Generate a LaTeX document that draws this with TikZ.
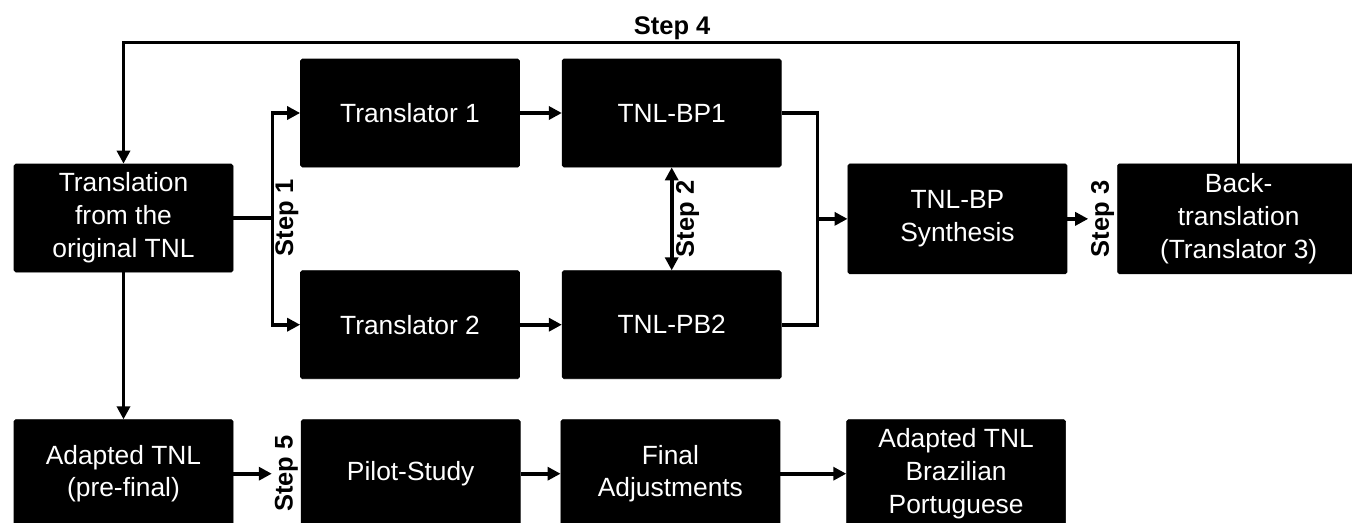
\documentclass[tikz,border=0pt]{standalone}
\usepackage{fontspec}
\setmainfont{Liberation Sans}
\usetikzlibrary{positioning, arrows.meta, calc}

\begin{document}
\begin{tikzpicture}[
        node distance = 8mm and 8mm,
        box/.style    = {draw, fill=black, rounded corners=1pt, minimum height=21.6mm, minimum width=43.8mm, align=center, text=white, font=\fontsize{15}{18.7}\selectfont},
        steplbl/.style= {font=\fontsize{14.5}{17}\selectfont\bfseries, inner sep=1.5pt},
        vstep/.style  = {steplbl, rotate=90},
        line/.style   = {line width=2.1pt},
        arrow/.style  = {line, -{Triangle[length=2.6mm, width=2.6mm]}},
    ]
        \useasboundingbox (0,0) rectangle (27.04,-10.44);
        % First translations
        \node[box] (trans) at (2.47,-4.36) {Translation\\from the\\original TNL};
        \node[box] (tr1) at (8.2,-2.26) {Translator 1};
        \node[box, right=8.4mm of tr1] (bp1) {TNL-BP1};
        \node[box, below=20.6mm of tr1] (tr2) {Translator 2};
        \node[box, below=20.6mm of bp1] (pb2) {TNL-PB2};
        % Synthesis and back-translation
        \coordinate (merge) at ($(bp1.east)!0.5!(pb2.east)+(7.2mm,0)$);
        \node[box, right=6mm of merge, minimum height=22mm] (synth) {TNL-BP\\Synthesis};
        \node[box, right=10mm of synth, minimum height=22mm, minimum width=48.4mm] (back) {Back-\\translation\\(Translator 3)};
        % Pre-final version and pilot
        \node[box, below=29.4mm of trans] (adapt) {Adapted TNL\\(pre-final)};
        \node[box, right=13.5mm of adapt] (pilot) {Pilot-Study};
        \node[box, right=8mm of pilot] (finadj) {Final\\Adjustments};
        \node[box, right=13.2mm of finadj] (final) {Adapted TNL\\Brazilian\\Portuguese};

        % Step labels
        \coordinate (split) at ($(trans.east)+(7.8mm,0)$);
        \node[vstep, anchor=north] (s1) at (split) {Step 1};
        \node[vstep, anchor=south] (s3) at (back.west) {Step 3};
        \node[vstep, anchor=south] (s5) at (pilot.west) {Step 5};

        % Arrows
        \draw[line] (trans.east) -- (split);
        \draw[arrow] (split) |- (tr1.west);
        \draw[arrow] (split) |- (tr2.west);
        \draw[arrow] (tr1) -- (bp1);
        \draw[arrow] (tr2) -- (pb2);
        \draw[line, {Triangle[length=2.6mm, width=2.6mm]}-{Triangle[length=2.6mm, width=2.6mm]}] (bp1.south) -- node[vstep, anchor=north] (s2) {Step 2} (pb2.north);
        \draw[line] (bp1.east) -| (merge) |- (pb2.east);
        \draw[arrow] (merge) -- (synth.west);
        \draw[arrow] (synth.east) -- (s3.north);
        \draw[arrow] (back.north) -- ++(0,2.42) -| node[steplbl, above, inner sep=0.5pt, pos=0.254] (s4) {Step 4} (trans.north);
        \draw[arrow] (trans.south) -- (adapt.north);
        \draw[arrow] (adapt.east) -- (s5.north);
        \draw[arrow] (pilot) -- (finadj);
        \draw[arrow] (finadj) -- (final);
    \end{tikzpicture}
\end{document}
